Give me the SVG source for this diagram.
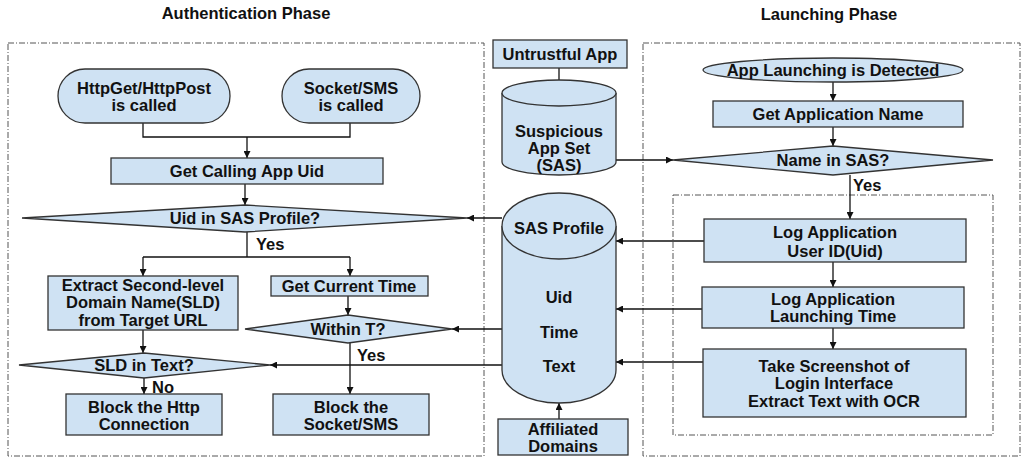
<svg xmlns="http://www.w3.org/2000/svg" width="1025" height="458" viewBox="0 0 1025 458">
<defs>
<marker id="arr" viewBox="0 0 10 10" refX="10" refY="5" markerWidth="7" markerHeight="7" markerUnits="userSpaceOnUse" orient="auto"><path d="M0,0 L10,5 L0,10 z" fill="#111"/></marker>
</defs>
<style>
.n{fill:#cfe2f3;stroke:#333;stroke-width:1.3}
.t{font-family:"Liberation Sans",Arial,sans-serif;font-weight:bold;font-size:16.5px;fill:#111;text-anchor:middle}
.l{font-family:"Liberation Sans",Arial,sans-serif;font-weight:bold;font-size:16.5px;fill:#111}
.c{fill:none;stroke:#111;stroke-width:1.3}
.a{fill:none;stroke:#111;stroke-width:1.3;marker-end:url(#arr)}
.d{fill:none;stroke:#555;stroke-width:1;stroke-dasharray:6 2 1 2}
</style>
<rect width="1025" height="458" fill="#fff"/>
<g id="frames">
<rect class="d" x="8" y="43" width="476" height="413"/>
<rect class="d" x="643" y="43" width="377" height="413"/>
<rect class="d" x="673" y="195" width="320" height="240"/>
<text class="t" x="246" y="19">Authentication Phase</text>
<text class="t" x="829" y="20">Launching Phase</text>
</g>
<g id="connectors">
<path class="c" d="M143,123 V137 H350 V123"/>
<path class="a" d="M247,137 V158"/>
<path class="a" d="M245,184 V205"/>
<path class="c" d="M247,232 V257"/>
<path class="a" d="M143,257 H143 V276"/>
<path class="c" d="M143,257 H350"/>
<path class="a" d="M350,257 V276"/>
<path class="a" d="M348,296 V315"/>
<path class="a" d="M143,330 V353"/>
<path class="a" d="M144,378 V394"/>
<path class="a" d="M350,343 V394"/>
<path class="a" d="M502,218 H467"/>
<path class="a" d="M502,329 H452"/>
<path class="a" d="M502,365 H270"/>
<path class="a" d="M559,68 V88"/>
<path class="a" d="M616,160 H673"/>
<path class="a" d="M833,82 V101"/>
<path class="a" d="M833,127 V146"/>
<path class="a" d="M850,175 V219"/>
<path class="a" d="M833,262 V287"/>
<path class="a" d="M833,328 V349"/>
<path class="a" d="M704,241 H616"/>
<path class="a" d="M704,309 H616"/>
<path class="a" d="M704,362 H616"/>
<path class="a" d="M559,419 V403"/>
<text class="l" x="256" y="250">Yes</text>
<text class="l" x="357" y="361">Yes</text>
<text class="l" x="152" y="393">No</text>
<text class="l" x="853" y="191">Yes</text>
</g>
<g id="httpget"><rect class="n" x="58" y="69" width="172" height="54" rx="27"/><text class="t" x="144" y="94">HttpGet/HttpPost</text><text class="t" x="144" y="111">is called</text></g>
<g id="socket"><rect class="n" x="282" y="69" width="138" height="54" rx="27"/><text class="t" x="351" y="94">Socket/SMS</text><text class="t" x="351" y="111">is called</text></g>
<g id="getuid"><rect class="n" x="111" y="158" width="272" height="26"/><text class="t" x="247" y="177">Get Calling App Uid</text></g>
<g id="uidin"><polygon class="n" points="22,218 245,205 467,218 245,232"/><text class="t" x="245" y="224">Uid in SAS Profile?</text></g>
<g id="extract"><rect class="n" x="48" y="276" width="190" height="54"/><text class="t" x="143" y="291">Extract Second-level</text><text class="t" x="143" y="308">Domain Name(SLD)</text><text class="t" x="143" y="326">from Target URL</text></g>
<g id="gettime"><rect class="n" x="271" y="276" width="157" height="20"/><text class="t" x="349" y="292">Get Current Time</text></g>
<g id="within"><polygon class="n" points="245,329 348,315 452,329 348,343"/><text class="t" x="348" y="335">Within T?</text></g>
<g id="sld"><polygon class="n" points="19,365 144,353 270,365 144,378"/><text class="t" x="144" y="371">SLD in Text?</text></g>
<g id="blockhttp"><rect class="n" x="66" y="394" width="156" height="41"/><text class="t" x="144" y="413">Block the Http</text><text class="t" x="144" y="430">Connection</text></g>
<g id="blocksocket"><rect class="n" x="273" y="394" width="156" height="41"/><text class="t" x="351" y="413">Block the</text><text class="t" x="351" y="430">Socket/SMS</text></g>
<g id="untrustful"><rect class="n" x="493" y="40" width="134" height="28"/><text class="t" x="560" y="60">Untrustful App</text></g>
<g id="sas"><path class="n" d="M502,93 A57,13 0 0 1 616,93 V162 A57,13 0 0 1 502,162 Z"/><path class="n" d="M502,93 A57,13 0 0 0 616,93" fill="none"/><text class="t" x="559" y="137">Suspicious</text><text class="t" x="559" y="154">App Set</text><text class="t" x="559" y="171">(SAS)</text></g>
<g id="profile"><path class="n" d="M502,226 A57,33 0 0 1 616,226 V370 A57,33 0 0 1 502,370 Z"/><path class="n" d="M502,226 A57,33 0 0 0 616,226" fill="none"/><text class="t" x="559" y="234">SAS Profile</text><text class="t" x="559" y="303">Uid</text><text class="t" x="559" y="338">Time</text><text class="t" x="559" y="372">Text</text></g>
<g id="affiliated"><rect class="n" x="498" y="419" width="130" height="36"/><text class="t" x="563" y="435">Affiliated</text><text class="t" x="563" y="452">Domains</text></g>
<g id="launch"><ellipse class="n" cx="833" cy="70" rx="130" ry="12"/><text class="t" x="833" y="76">App Launching is Detected</text></g>
<g id="getname"><rect class="n" x="713" y="101" width="250" height="26"/><text class="t" x="838" y="120">Get Application Name</text></g>
<g id="namein"><polygon class="n" points="673,160 833,146 993,160 833,175"/><text class="t" x="833" y="166">Name in SAS?</text></g>
<g id="loguid"><rect class="n" x="704" y="219" width="262" height="43"/><text class="t" x="835" y="238">Log Application</text><text class="t" x="835" y="257">User ID(Uid)</text></g>
<g id="logtime"><rect class="n" x="702" y="287" width="262" height="41"/><text class="t" x="833" y="305">Log Application</text><text class="t" x="833" y="322">Launching Time</text></g>
<g id="screenshot"><rect class="n" x="703" y="349" width="263" height="68"/><text class="t" x="834" y="372">Take Screenshot of</text><text class="t" x="834" y="389">Login Interface</text><text class="t" x="834" y="407">Extract Text with OCR</text></g>
</svg>
